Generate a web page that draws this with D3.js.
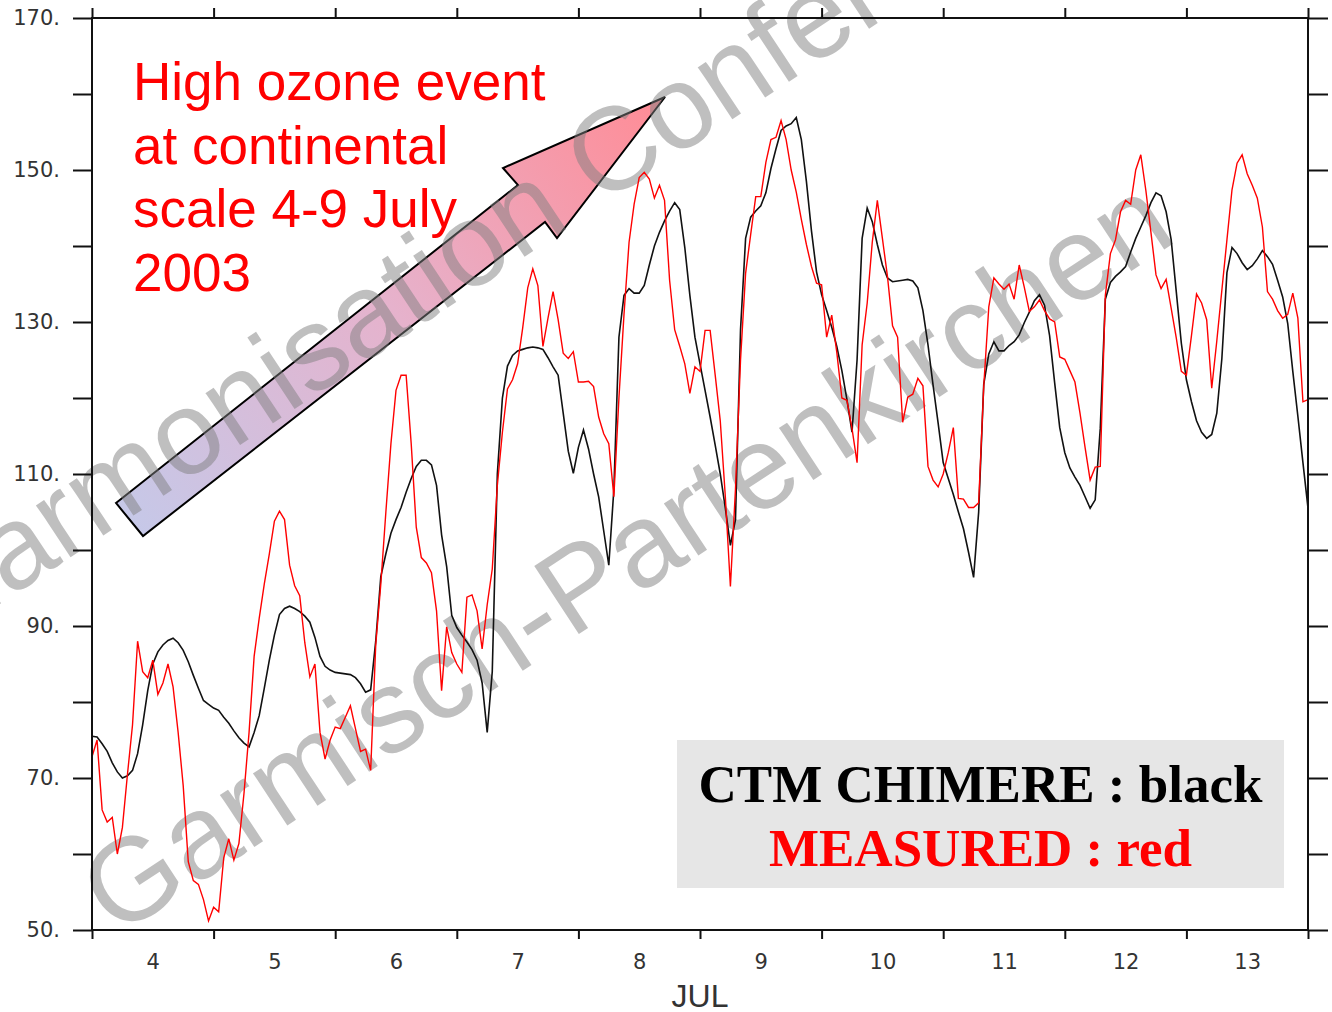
<!DOCTYPE html>
<html>
<head>
<meta charset="utf-8">
<script src="https://cdn.jsdelivr.net/npm/d3@7"></script>
<style>
  body { margin: 0; background: #fff; }
  svg { display: block; }
</style>
</head>
<body>
<div id="chart-container"></div>
<script>
// Hourly ozone at Garmisch-Partenkirchen, 4-13 July 2003 (hour 0 = 4 Jul 00:00)
const days = ["4", "5", "6", "7", "8", "9", "10", "11", "12", "13"];
const monthLabel = "JUL";
const yTicks = [50, 60, 70, 80, 90, 100, 110, 120, 130, 140, 150, 160, 170];
const yLabelled = [50, 70, 90, 110, 130, 150, 170];

// CTM CHIMERE model (black)
const chimere = [
  75.5, 75.4, 74.5, 73.5, 72.0, 70.8, 70.0, 70.3, 71.0, 73.2, 77.0, 81.5, 85.0, 86.6, 87.5, 88.1, 88.4, 87.8, 86.8, 85.3, 83.5, 81.8, 80.2, 79.7,
  79.2, 78.9, 78.0, 77.2, 76.2, 75.3, 74.6, 74.1, 76.0, 78.2, 81.8, 85.5, 88.8, 91.5, 92.3, 92.6, 92.3, 91.9, 91.3, 90.5, 88.5, 86.0, 84.7, 84.2,
  83.9, 83.8, 83.7, 83.6, 83.2, 82.4, 81.3, 81.6, 88.0, 96.5, 99.5, 102.2, 104.0, 105.6, 107.6, 109.4, 111.0, 111.8, 111.8, 111.2, 108.5, 102.0, 97.8, 91.4,
  89.8, 88.8, 87.9, 86.9, 85.5, 82.5, 76.0, 84.0, 110.0, 120.0, 124.2, 125.6, 126.2, 126.4, 126.6, 126.7, 126.6, 126.4, 125.3, 124.1, 123.0, 118.0, 113.0, 110.1,
  113.5, 115.8, 113.3, 110.0, 107.0, 102.5, 98.0, 108.0, 128.0, 133.5, 134.4, 133.8, 133.8, 134.8, 137.5, 140.0, 141.8, 143.3, 144.6, 145.7, 144.8, 139.8, 133.5, 128.0,
  124.5, 121.0, 117.5, 113.8, 110.0, 105.5, 100.6, 104.0, 129.0, 141.0, 143.8, 144.6, 145.3, 147.0, 150.2, 152.8, 155.2, 155.8, 156.1, 156.9, 154.0, 148.5, 142.0, 136.6,
  133.6, 131.5, 129.3, 126.8, 123.6, 119.8, 115.5, 125.0, 141.0, 145.0, 143.2, 140.2, 137.5, 135.8, 135.3, 135.4, 135.5, 135.6, 135.4, 134.5, 131.5, 127.0, 121.7, 116.7,
  111.5, 109.4, 107.3, 105.0, 102.8, 99.7, 96.4, 105.0, 121.8, 125.8, 127.4, 126.2, 126.2, 126.9, 127.4, 128.3, 129.9, 131.3, 132.8, 133.6, 132.2, 128.2, 122.0, 116.1,
  112.8, 110.8, 109.6, 108.5, 107.0, 105.5, 106.6, 116.0, 133.0, 135.2, 136.0, 136.6, 137.3, 139.2, 141.0, 142.5, 144.0, 145.7, 147.0, 146.6, 144.5, 140.8, 134.0, 127.2,
  122.4, 119.5, 117.0, 115.5, 114.7, 115.2, 118.0, 125.2, 136.5, 139.8, 139.0, 137.8, 136.9, 137.4, 138.3, 139.4, 138.6, 137.6, 135.5, 133.3, 129.8, 123.5, 117.6, 111.5,
  105.5
];

// Measured (red)
const measured = [
  72.8, 75.0, 65.8, 64.2, 64.8, 60.0, 63.5, 70.5, 77.0, 88.0, 84.0, 83.2, 85.5, 81.0, 82.5, 85.0, 82.0, 76.0, 69.0, 59.0, 56.5, 56.0, 54.0, 51.2,
  53.0, 52.4, 59.5, 62.0, 59.2, 61.4, 68.0, 76.0, 86.0, 91.0, 95.5, 99.5, 103.8, 105.1, 104.0, 98.0, 95.3, 94.0, 87.8, 83.3, 85.0, 76.0, 72.5, 75.0,
  76.7, 76.5, 78.0, 79.5, 76.5, 73.5, 73.8, 71.0, 87.5, 95.5, 105.0, 114.0, 121.0, 123.0, 123.0, 114.0, 103.0, 99.0, 98.3, 97.0, 92.0, 81.5, 89.9, 86.5,
  85.0, 83.9, 93.8, 94.1, 92.0, 87.0, 92.8, 97.5, 108.5, 115.5, 121.2, 122.4, 124.5, 129.2, 134.5, 137.0, 134.8, 126.8, 130.5, 134.0, 130.3, 125.9, 125.2, 126.1,
  122.1, 122.1, 122.2, 121.5, 117.5, 115.3, 114.0, 107.0, 120.0, 131.0, 140.5, 145.5, 149.0, 149.7, 148.8, 146.3, 148.0, 146.0, 135.5, 129.0, 126.8, 124.5, 120.6, 124.1,
  123.5, 128.9, 128.9, 123.0, 117.0, 107.0, 95.2, 108.0, 125.0, 136.4, 141.5, 146.5, 146.5, 151.0, 154.0, 154.3, 156.5, 154.0, 150.0, 147.1, 143.5, 140.2, 137.3, 135.1,
  134.9, 128.0, 130.9, 126.0, 120.0, 119.7, 116.0, 111.5, 127.0, 132.5, 140.5, 146.0, 141.0, 136.0, 129.5, 128.0, 116.8, 120.1, 120.5, 122.6, 121.6, 111.0, 109.2, 108.3,
  110.0, 112.8, 116.1, 106.8, 106.7, 105.6, 105.6, 106.2, 121.5, 132.0, 135.8, 135.0, 134.3, 135.0, 133.0, 137.5, 134.6, 131.4, 132.0, 132.9, 131.5, 130.4, 130.0, 125.4,
  125.1, 123.6, 122.1, 118.0, 113.5, 109.2, 110.9, 111.0, 133.5, 139.0, 140.8, 144.5, 146.0, 145.5, 150.0, 152.0, 147.3, 141.8, 136.2, 134.4, 135.6, 131.8, 127.9, 123.5,
  123.0, 128.2, 133.7, 132.5, 130.3, 121.3, 127.5, 134.2, 140.8, 147.4, 150.9, 152.0, 149.5, 148.0, 146.3, 142.5, 134.0, 133.0, 131.5, 130.5, 131.0, 133.8, 130.5, 119.5,
  119.8
];

const annotationLines = ["High ozone event", "at continental", "scale 4-9 July", "2003"];
const legendLines = [
  { text: "CTM CHIMERE : black", color: "#000" },
  { text: "MEASURED : red", color: "#ff0000" }
];

const width = 1332, height = 1012;
const margin = { left: 92, right: 24, top: 18, bottom: 82 };
const start = new Date(Date.UTC(2003, 6, 4));

const svg = d3.select("#chart-container")
  .append("svg")
  .attr("width", width)
  .attr("height", height)
  .style("background", "#fff");

const x = d3.scaleUtc()
  .domain([start, d3.utcDay.offset(start, days.length)])
  .range([margin.left, width - margin.right]);

const y = d3.scaleLinear()
  .domain([50, 170])
  .range([height - margin.bottom, margin.top]);

// gradient for the arrow
const defs = svg.append("defs");
const grad = defs.append("linearGradient")
  .attr("id", "arrowGrad")
  .attr("gradientUnits", "userSpaceOnUse")
  .attr("x1", 130).attr("y1", 520)
  .attr("x2", 660).attr("y2", 100);
grad.append("stop").attr("offset", "0%").attr("stop-color", "#c6c8e8");
grad.append("stop").attr("offset", "50%").attr("stop-color", "#e6b2cc");
grad.append("stop").attr("offset", "100%").attr("stop-color", "#ff8c96");

// big arrow
const arrowPts = [[116, 503], [518, 185], [503, 168], [665, 97], [557, 238], [545, 222], [143, 536]];
svg.append("path")
  .attr("d", d3.line()(arrowPts) + "Z")
  .attr("fill", "url(#arrowGrad)")
  .attr("stroke", "#000")
  .attr("stroke-width", 2)
  .attr("stroke-linejoin", "miter");

// watermark
const wm = svg.append("g")
  .style("font-family", "'Liberation Sans', Arial, sans-serif")
  .style("font-size", "118px")
  .attr("fill", "#808080")
  .attr("fill-opacity", 0.5);
wm.append("text")
  .attr("transform", "translate(-62,645) rotate(-33.5)")
  .text("Harmonisation Conference");
wm.append("text")
  .attr("transform", "translate(116,938) rotate(-33.3)")
  .text("Garmisch-Partenkirchen");

// lines
const line = d3.line()
  .x((d, i) => x(d3.utcHour.offset(start, i)))
  .y(d => y(d));

svg.append("path")
  .datum(chimere)
  .attr("d", line)
  .attr("fill", "none")
  .attr("stroke", "#111")
  .attr("stroke-width", 1.6);

svg.append("path")
  .datum(measured)
  .attr("d", line)
  .attr("fill", "none")
  .attr("stroke", "#ff0000")
  .attr("stroke-width", 1.4);

// axes
const axisFont = "'DejaVu Sans', Verdana, sans-serif";
const styleAxis = g => {
  g.select(".domain").remove();
  g.selectAll(".tick line").attr("stroke", "#111").attr("stroke-width", 2);
  g.selectAll(".tick text")
    .attr("fill", "#333")
    .style("font-family", axisFont);
};

const dayBounds = d3.range(days.length + 1).map(i => d3.utcDay.offset(start, i));
const dayMids = days.map((d, i) => d3.utcHour.offset(start, i * 24 + 12));

svg.append("g")
  .attr("transform", `translate(${margin.left},0)`)
  .call(d3.axisLeft(y).tickValues(yTicks).tickSize(19).tickPadding(13)
    .tickFormat(d => yLabelled.includes(d) ? d + "." : ""))
  .call(styleAxis)
  .call(g => g.selectAll(".tick text").style("font-size", "21px"));

svg.append("g")
  .attr("transform", `translate(${width - margin.right},0)`)
  .call(d3.axisRight(y).tickValues(yTicks).tickSize(20).tickFormat(""))
  .call(styleAxis);

svg.append("g")
  .attr("transform", `translate(0,${height - margin.bottom})`)
  .call(d3.axisBottom(x).tickValues(dayBounds).tickSize(9).tickFormat(""))
  .call(styleAxis);

svg.append("g")
  .attr("transform", `translate(0,${margin.top})`)
  .call(d3.axisTop(x).tickValues(dayBounds).tickSize(10).tickFormat(""))
  .call(styleAxis);

// day labels at noon
svg.append("g")
  .attr("transform", `translate(0,${height - margin.bottom})`)
  .call(d3.axisBottom(x).tickValues(dayMids).tickSize(0).tickPadding(24)
    .tickFormat((d, i) => days[i]))
  .call(styleAxis)
  .call(g => g.selectAll(".tick text").style("font-size", "21px"));

svg.append("text")
  .attr("x", (x.range()[0] + x.range()[1]) / 2)
  .attr("y", 1007)
  .attr("text-anchor", "middle")
  .attr("fill", "#333")
  .style("font-family", "'Liberation Sans', Arial, sans-serif")
  .style("font-size", "32px")
  .text(monthLabel);

// frame
svg.append("rect")
  .attr("x", margin.left)
  .attr("y", margin.top)
  .attr("width", width - margin.left - margin.right)
  .attr("height", height - margin.top - margin.bottom)
  .attr("fill", "none")
  .attr("stroke", "#111")
  .attr("stroke-width", 2);

// red annotation
svg.append("g")
  .selectAll("text")
  .data(annotationLines)
  .join("text")
  .attr("x", 133)
  .attr("y", (d, i) => 100 + i * 63.5)
  .attr("fill", "#ff0000")
  .style("font-family", "'Liberation Sans', Arial, sans-serif")
  .style("font-size", "53px")
  .text(d => d);

// legend box
svg.append("rect")
  .attr("x", 677).attr("y", 740)
  .attr("width", 607).attr("height", 148)
  .attr("fill", "#e6e6e6");

svg.append("g")
  .selectAll("text")
  .data(legendLines)
  .join("text")
  .attr("x", 980.5)
  .attr("y", (d, i) => 802 + i * 64)
  .attr("text-anchor", "middle")
  .attr("fill", d => d.color)
  .style("font-family", "'Liberation Serif', 'Times New Roman', serif")
  .style("font-weight", "bold")
  .style("font-size", "53px")
  .text(d => d.text);
</script>
</body>
</html>
